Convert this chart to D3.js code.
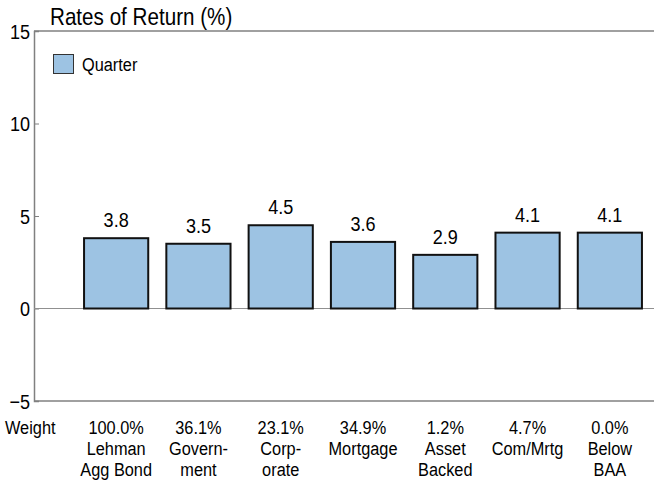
<!DOCTYPE html>
<html>
<head>
<meta charset="utf-8">
<script src="https://cdn.jsdelivr.net/npm/d3@7"></script>
<style>
  body { margin: 0; background: #fff; }
  svg text { font-family: "Liberation Sans", Arial, sans-serif; fill: #000; }
</style>
</head>
<body>
<script>
  // chart data
  var categories = ['Lehman Agg Bond', 'Government', 'Corporate', 'Mortgage', 'Asset Backed', 'Com/Mrtg', 'Below BAA'],
      labelLines = [['Lehman', 'Agg Bond'], ['Govern-', 'ment'], ['Corp-', 'orate'], ['Mortgage'], ['Asset', 'Backed'], ['Com/Mrtg'], ['Below', 'BAA']],
      weights = ['100.0%', '36.1%', '23.1%', '34.9%', '1.2%', '4.7%', '0.0%'],
      quarter = [3.8, 3.5, 4.5, 3.6, 2.9, 4.1, 4.1],
      yTicks = [-5, 0, 5, 10, 15];

  var W = 654, H = 486,
      padL = 34, padR = 654, padT = 31, padB = 401,
      narrow = 0.86; // squeeze text to mimic a narrow face

  // place a text with a horizontal squeeze
  function squeeze(x, y) {
    return 'translate(' + x + ',' + y + ') scale(' + narrow + ',1)';
  }

  var svg = d3.select('body').append('svg')
    .attr('width', W)
    .attr('height', H);

  var x = d3.scaleBand()
    .domain(categories)
    .range([75, 651])
    .paddingInner(0.22)
    .paddingOuter(0.11);

  var y = d3.scaleLinear()
    .domain([-5, 15])
    .range([padB, padT]);

  // frame lines
  svg.append('line')
    .attr('x1', padL).attr('x2', padR)
    .attr('y1', y(15)).attr('y2', y(15))
    .attr('stroke', '#808080').attr('stroke-width', 1.5);
  svg.append('line')
    .attr('x1', padL).attr('x2', padR)
    .attr('y1', y(-5)).attr('y2', y(-5))
    .attr('stroke', '#808080').attr('stroke-width', 1.5);

  // y axis, ticks pointing inward
  var yAxis = svg.append('g')
    .attr('transform', 'translate(' + padL + ',0)')
    .call(d3.axisRight(y).tickValues(yTicks).tickSize(5).tickFormat(d3.format('d')));
  yAxis.select('.domain').attr('stroke', '#808080').attr('stroke-width', 1.5);
  yAxis.selectAll('.tick line').attr('stroke', '#808080');
  yAxis.selectAll('.tick text')
    .attr('x', null)
    .attr('dy', null)
    .attr('transform', squeeze(-4, 7))
    .attr('text-anchor', 'end')
    .attr('font-family', null)
    .attr('font-size', null)
    .style('font-size', '21px');

  // zero line
  svg.append('line')
    .attr('x1', padL).attr('x2', padR)
    .attr('y1', y(0)).attr('y2', y(0))
    .attr('stroke', '#909090').attr('stroke-width', 1.2);

  // bars
  svg.selectAll('rect.bar')
    .data(quarter)
    .enter()
    .append('rect')
    .attr('class', 'bar')
    .attr('x', function (d, i) { return x(categories[i]); })
    .attr('width', x.bandwidth())
    .attr('y', function (d) { return y(Math.max(0, d)); })
    .attr('height', function (d) { return Math.abs(y(d) - y(0)); })
    .attr('fill', '#9dc3e3')
    .attr('stroke', '#111')
    .attr('stroke-width', 2);

  // value labels
  svg.selectAll('text.val')
    .data(quarter)
    .enter()
    .append('text')
    .attr('class', 'val')
    .attr('transform', function (d, i) {
      return squeeze(x(categories[i]) + x.bandwidth() / 2, y(d) - 11);
    })
    .attr('text-anchor', 'middle')
    .style('font-size', '21px')
    .text(function (d) { return d.toFixed(1); });

  // title
  svg.append('text')
    .attr('transform', squeeze(50, 25))
    .style('font-size', '24px')
    .text('Rates of Return (%)');

  // legend
  svg.append('rect')
    .attr('x', 53.5).attr('y', 54.5)
    .attr('width', 20).attr('height', 19)
    .attr('fill', '#9dc3e3')
    .attr('stroke', '#333')
    .attr('stroke-width', 1);
  svg.append('text')
    .attr('transform', squeeze(82, 71))
    .style('font-size', '19px')
    .text('Quarter');

  // bottom labels
  svg.append('text')
    .attr('transform', squeeze(5, 434))
    .style('font-size', '19px')
    .text('Weight');

  var cat = svg.selectAll('g.cat')
    .data(categories)
    .enter()
    .append('g')
    .attr('class', 'cat')
    .attr('transform', function (d) { return 'translate(' + (x(d) + x.bandwidth() / 2) + ',0)'; });

  cat.append('text')
    .attr('transform', squeeze(0, 434))
    .attr('text-anchor', 'middle')
    .style('font-size', '19px')
    .text(function (d, i) { return weights[i]; });

  cat.each(function (d, i) {
    d3.select(this).selectAll('text.ln')
      .data(labelLines[i])
      .enter()
      .append('text')
      .attr('class', 'ln')
      .attr('transform', function (t, j) { return squeeze(0, 455 + j * 21); })
      .attr('text-anchor', 'middle')
      .style('font-size', '19px')
      .text(function (t) { return t; });
  });
</script>
</body>
</html>
